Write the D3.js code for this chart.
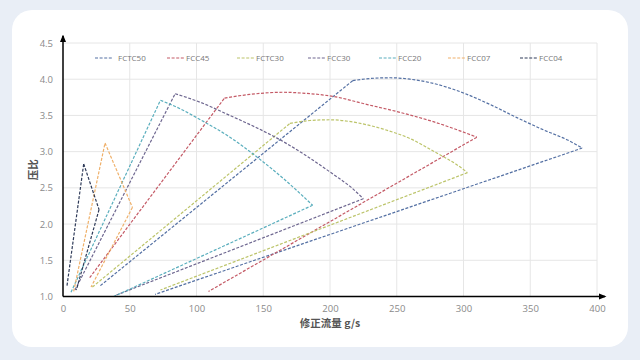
<!DOCTYPE html>
<html>
<head>
<meta charset="utf-8">
<script src="https://cdn.jsdelivr.net/npm/d3@7"></script>
<style>
html,body{margin:0;padding:0;background:#e9eef6;}
svg{display:block;}
</style>
</head>
<body>
<svg id="chart" width="640" height="360"></svg>
<script>
// ---- data ----
const seriesNames = ["FCTC50","FCC45","FCTC30","FCC30","FCC20","FCC07","FCC04"];
const seriesColors = ["#5470a3","#c45a66","#bcc46a","#6e6790","#5aaebd","#efb06a","#2e3a58"];
// surge-line start points [flow, PR]
const surgeStart = [[28,1.15],[20,1.26],[22,1.13],[9,1.09],[6,1.06],[8,1.07],[3,1.15]];
// max-speed lines [flow, PR]
const speedLines = [
  [[217,3.98],[230,4.01],[245,4.02],[260,4.0],[280,3.93],[300,3.81],[320,3.65],[340,3.47],[360,3.3],[378,3.16],[389,3.05]],
  [[121,3.74],[140,3.79],[165,3.82],[178,3.81],[203,3.76],[228,3.65],[253,3.54],[278,3.41],[310,3.2]],
  [[170,3.39],[185,3.43],[200,3.44],[220,3.40],[240,3.31],[260,3.18],[280,2.98],[295,2.82],[303,2.71]],
  [[84,3.8],[103,3.68],[125,3.5],[145,3.33],[160,3.19],[180,2.97],[203,2.68],[215,2.52],[225,2.35]],
  [[73,3.71],[88,3.59],[103,3.44],[125,3.2],[145,2.93],[165,2.63],[187,2.26]],
  [[31.5,3.12],[52,2.23]],
  [[15.5,2.83],[27,2.2]]
];
// choke-line end points [flow, PR]
const chokeEnd = [[69,1.03],[109,1.07],[73,1.09],[40,1.02],[38,1.0],[21,1.13],[10,1.09]];
const xTicks = [0,50,100,150,200,250,300,350,400];
const yTicks = [1.0,1.5,2.0,2.5,3.0,3.5,4.0,4.5];
const xTitle = "修正流量 g/s";
const yTitle = "压比";

// ---- drawing ----
const svg = d3.select("#chart");
svg.append("rect").attr("x",12).attr("y",10).attr("width",616).attr("height",337)
  .attr("rx",20).attr("fill","#ffffff");

const x = d3.scaleLinear().domain([0,400]).range([63,597]);
const y = d3.scaleLinear().domain([1,4.5]).range([296.5,43]);

// grid
svg.append("g").selectAll("line").data(yTicks.slice(1)).join("line")
  .attr("x1",x(0)).attr("x2",x(400)).attr("y1",d=>y(d)).attr("y2",d=>y(d))
  .attr("stroke","#e6e6e6").attr("stroke-width",1);
svg.append("g").selectAll("line").data(xTicks.slice(1)).join("line")
  .attr("x1",d=>x(d)).attr("x2",d=>x(d)).attr("y1",y(1)).attr("y2",y(4.5))
  .attr("stroke","#e6e6e6").attr("stroke-width",1);

// axes tick labels via d3 axes
const xAxis = d3.axisBottom(x).tickValues(xTicks).tickSize(0).tickPadding(9).tickFormat(d3.format("d"));
const yAxis = d3.axisLeft(y).tickValues(yTicks).tickSize(0).tickPadding(10).tickFormat(d3.format(".1f"));
const gx = svg.append("g").attr("transform",`translate(0,${y(1)})`).call(xAxis);
const gy = svg.append("g").attr("transform",`translate(${x(0)},0)`).call(yAxis);
[gx,gy].forEach(g=>{
  g.select(".domain").remove();
  g.selectAll("text").attr("fill","#8a8a8a").style("font-family","'Open Sans', 'Liberation Sans', sans-serif").style("font-size","9.5px");
});

// series
const lin = d3.line().x(d=>x(d[0])).y(d=>y(d[1]));
const smooth = d3.line().x(d=>x(d[0])).y(d=>y(d[1])).curve(d3.curveMonotoneX);
seriesNames.forEach((name,i)=>{
  const arc = speedLines[i];
  const first = arc[0], last = arc[arc.length-1];
  const d = lin([surgeStart[i], first]) + smooth(arc) + lin([last, chokeEnd[i]]);
  svg.append("path").attr("d",d).attr("fill","none")
    .attr("stroke",seriesColors[i]).attr("stroke-width",1.2)
    .attr("stroke-dasharray","3,1.6");
});

// axis lines with arrows
const defs = svg.append("defs");
defs.append("marker").attr("id","arr").attr("viewBox","0 0 10 10").attr("refX",8).attr("refY",5)
  .attr("markerWidth",5).attr("markerHeight",5).attr("orient","auto")
  .append("path").attr("d","M0,1 L10,5 L0,9 Z").attr("fill","#000");
svg.append("line").attr("x1",x(0)).attr("y1",y(1)).attr("x2",x(0)).attr("y2",36)
  .attr("stroke","#000").attr("stroke-width",1.5).attr("marker-end","url(#arr)");
svg.append("line").attr("x1",x(0)).attr("y1",y(1)).attr("x2",605).attr("y2",y(1))
  .attr("stroke","#000").attr("stroke-width",1.5).attr("marker-end","url(#arr)");

// titles
svg.append("text").attr("x",330).attr("y",327).attr("text-anchor","middle")
  .attr("fill","#555").style("font-family","'Noto Sans CJK SC', sans-serif")
  .style("font-weight","bold").style("font-size","10.5px").text(xTitle);
svg.append("text").attr("transform",`translate(37,${y(2.75)}) rotate(-90)`).attr("text-anchor","middle")
  .attr("fill","#555").style("font-family","'Noto Sans CJK SC', sans-serif")
  .style("font-weight","bold").style("font-size","10.5px").text(yTitle);

// legend
const legendX = [95,167,237,308,379,448,520];
const lg = svg.append("g");
seriesNames.forEach((name,i)=>{
  const lx = legendX[i], ly = 58;
  lg.append("line").attr("x1",lx).attr("x2",lx+18).attr("y1",ly).attr("y2",ly)
    .attr("stroke",seriesColors[i]).attr("stroke-width",1.2).attr("stroke-dasharray","3,1.6");
  lg.append("text").attr("x",lx+(i===0?23:19)).attr("y",ly+3)
    .attr("fill","#777").style("font-family","'Open Sans', 'Liberation Sans', sans-serif")
    .style("font-size","8px").text(name);
});
</script>
</body>
</html>
